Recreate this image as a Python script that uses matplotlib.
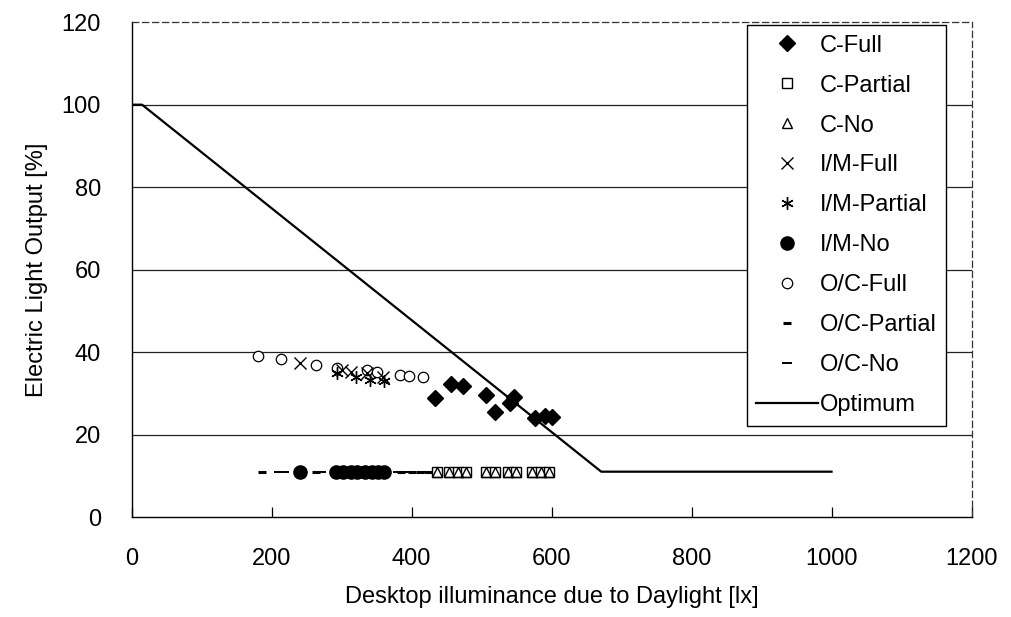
import matplotlib
matplotlib.use("Agg")
import matplotlib.pyplot as plt

plt.rcParams['font.family'] = ['Liberation Sans', 'DejaVu Sans']
plt.rcParams['font.size'] = 17

# measured points: desktop illuminance [lx] vs electric light output [%]
c_full_x = [434, 457, 473, 507, 519, 540, 547, 576, 590, 600]
c_full_y = [28.8, 32.2, 31.8, 29.6, 25.5, 27.6, 29.1, 24.0, 24.5, 24.3]

c_partial_x = [436, 453, 467, 478, 506, 519, 538, 549, 572, 585, 597]
c_partial_y = [11, 11, 11, 11, 11, 11, 11, 11, 11, 11, 11]

c_no_x = [436, 453, 467, 478, 506, 519, 538, 549, 572, 585, 597]
c_no_y = [11, 11, 11, 11, 11, 11, 11, 11, 11, 11, 11]

im_full_x = [241, 301, 314, 336, 359]
im_full_y = [37.3, 35.6, 35.2, 34.9, 34.0]

im_partial_x = [293, 321, 340, 360]
im_partial_y = [35.0, 34.0, 33.2, 33.0]

im_no_x = [240, 292, 302, 313, 322, 333, 343, 352, 360]
im_no_y = [11, 11, 11, 11, 11, 11, 11, 11, 11]

oc_full_x = [181, 214, 264, 293, 336, 351, 383, 397, 416]
oc_full_y = [39.0, 38.3, 36.8, 36.1, 35.6, 35.2, 34.4, 34.2, 34.0]

oc_partial_x = [186, 264, 385, 400, 412, 424]
oc_partial_y = [11, 11, 11, 11, 11, 11]

oc_no_x = [210, 218, 270, 380, 395, 418]
oc_no_y = [11, 11, 11, 11, 11, 11]

optimum_x = [0, 15, 671, 1000]
optimum_y = [100, 100, 11, 11]

fig = plt.figure(figsize=(10.12, 6.17), dpi=100)
ax = fig.add_axes([0.130, 0.162, 0.830, 0.802])

for yv in [20, 40, 60, 80, 100]:
    ax.axhline(yv, color='#222222', lw=0.9, zorder=1)

ax.plot(c_full_x, c_full_y, 'D', ms=8, color='black', ls='none', label='C-Full', zorder=4)
ax.plot(c_partial_x, c_partial_y, 's', ms=7, mfc='white', mec='black', mew=1, ls='none', label='C-Partial', zorder=3)
ax.plot(c_no_x, c_no_y, '^', ms=7, mfc='none', mec='black', mew=1, ls='none', label='C-No', zorder=4)
ax.plot(im_full_x, im_full_y, 'x', ms=9, color='black', mew=1, ls='none', label='I/M-Full', zorder=4)
ax.plot(im_partial_x, im_partial_y, marker=(6, 2, 0), ms=9, color='black', mew=1, ls='none', label='I/M-Partial', zorder=4)
ax.plot(im_no_x, im_no_y, 'o', ms=9.5, color='black', ls='none', label='I/M-No', zorder=4)
ax.plot(oc_full_x, oc_full_y, 'o', ms=7.5, mfc='white', mec='black', mew=0.9, ls='none', label='O/C-Full', zorder=3)
ax.plot(oc_partial_x, oc_partial_y, '_', ms=6, color='black', mew=2.2, ls='none', label='O/C-Partial', zorder=3)
ax.plot(oc_no_x, oc_no_y, '_', ms=7, color='black', mew=1.4, ls='none', label='O/C-No', zorder=3)
ax.plot(optimum_x, optimum_y, '-', color='black', lw=1.6, label='Optimum', zorder=2)

ax.set_xlim(0, 1200)
ax.set_ylim(0, 120)
ax.set_xticks(range(0, 1201, 200))
ax.set_yticks(range(0, 121, 20))
ax.tick_params(axis='x', direction='in', length=7, width=0.9, pad=22)
ax.tick_params(axis='y', length=0, pad=22)

for side in ['left', 'bottom']:
    ax.spines[side].set_linewidth(1.0)
    ax.spines[side].set_color('black')
for side in ['top', 'right']:
    ax.spines[side].set_linewidth(0.9)
    ax.spines[side].set_color('#333333')
    ax.spines[side].set_linestyle((0, (5, 3)))

ax.set_xlabel('Desktop illuminance due to Daylight [lx]', labelpad=12)
ax.set_ylabel('Electric Light Output [%]', labelpad=10)

leg = ax.legend(loc='upper right', bbox_to_anchor=(0.970, 0.994), frameon=True,
                fancybox=False, edgecolor='black', framealpha=1,
                labelspacing=0.76, handlelength=2.6, handletextpad=0.1,
                borderpad=0.4, borderaxespad=0)
leg.get_frame().set_linewidth(1.0)

fig.savefig('out.png', dpi=100)
